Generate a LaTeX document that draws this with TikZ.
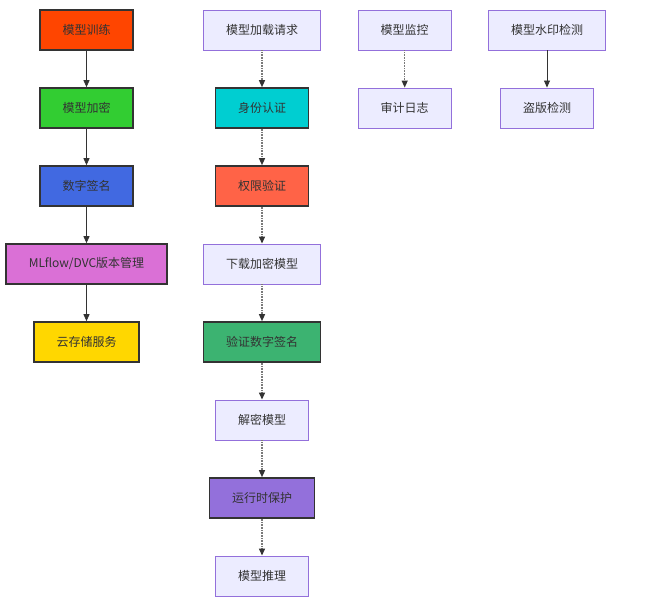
\documentclass[tikz,border=0pt]{standalone}
\usepackage{fontspec}
\setmainfont{Noto Sans CJK SC}
\usetikzlibrary{arrows.meta,positioning}

\definecolor{txt}{HTML}{333333}
\definecolor{plainfill}{HTML}{ECECFF}
\definecolor{plainline}{HTML}{9370DB}
\definecolor{trainc}{HTML}{FF4500}
\definecolor{encryptc}{HTML}{32CD32}
\definecolor{signc}{HTML}{4169E1}
\definecolor{versionc}{HTML}{DA70D6}
\definecolor{storec}{HTML}{FFD700}
\definecolor{authc}{HTML}{00CED1}
\definecolor{permc}{HTML}{FF6347}
\definecolor{verifyc}{HTML}{3CB371}
\definecolor{guardc}{HTML}{9370DB}

\tikzset{
	box/.style={draw=plainline, fill=plainfill, line width=0.9pt, text=txt,
		minimum height=40pt, inner xsep=22.5pt, inner ysep=0pt,
		font=\fontsize{12}{14}\selectfont},
	hot/.style={box, draw=txt, line width=1.6pt, fill=#1},
	flow/.style={-{Triangle[length=7pt,width=6pt]}, draw=txt, line width=0.8pt},
	dots/.style={-{Triangle[length=7pt,width=6pt,color=txt]}, line width=1.3pt,
		draw=txt!65, dash pattern=on 1pt off 0.6pt}
}

\begin{document}
\begin{tikzpicture}[x=1pt,y=-1pt]
	\useasboundingbox (0,0) rectangle (654,602);
	
	
	
	% training side
	\node[hot=trainc]   (train)   at (86.5,30)  {模型训练};
	\node[hot=encryptc] (encrypt) at (86.5,108) {模型加密};
	\node[hot=signc]    (sign)    at (86.5,186) {数字签名};
	\node[hot=versionc] (version) at (86.5,264) {MLflow/DVC版本管理};
	\node[hot=storec]   (store)   at (86.5,342) {云存储服务};
	
	\draw[flow] (train) -- (encrypt);
	\draw[flow] (encrypt) -- (sign);
	\draw[flow] (sign) -- (version);
	\draw[flow] (version) -- (store);
	
	
	
	% loading side
	\node[box]         (request)  at (262,30)  {模型加载请求};
	\node[hot=authc]   (auth)     at (262,108) {身份认证};
	\node[hot=permc]   (perm)     at (262,186) {权限验证};
	\node[box]         (download) at (262,264) {下载加密模型};
	\node[hot=verifyc] (verify)   at (262,342) {验证数字签名};
	\node[box]         (decrypt)  at (262,420) {解密模型};
	\node[hot=guardc]  (guard)    at (262,498) {运行时保护};
	\node[box]         (infer)    at (262,576) {模型推理};
	
	\draw[dots] (request) -- (auth);
	\draw[dots] (auth) -- (perm);
	\draw[dots] (perm) -- (download);
	\draw[dots] (download) -- (verify);
	\draw[dots] (verify) -- (decrypt);
	\draw[dots] (decrypt) -- (guard);
	\draw[dots] (guard) -- (infer);
	
	
	
	% monitoring and watermark
	\node[box] (monitor) at (404.7,30)  {模型监控};
	\node[box] (audit)   at (404.7,108) {审计日志};
	\draw[dots] (monitor) -- (audit);
	
	\node[box] (mark)   at (547,30)  {模型水印检测};
	\node[box] (piracy) at (547,108) {盗版检测};
	\draw[flow] (mark) -- (piracy);
	
\end{tikzpicture}
\end{document}
